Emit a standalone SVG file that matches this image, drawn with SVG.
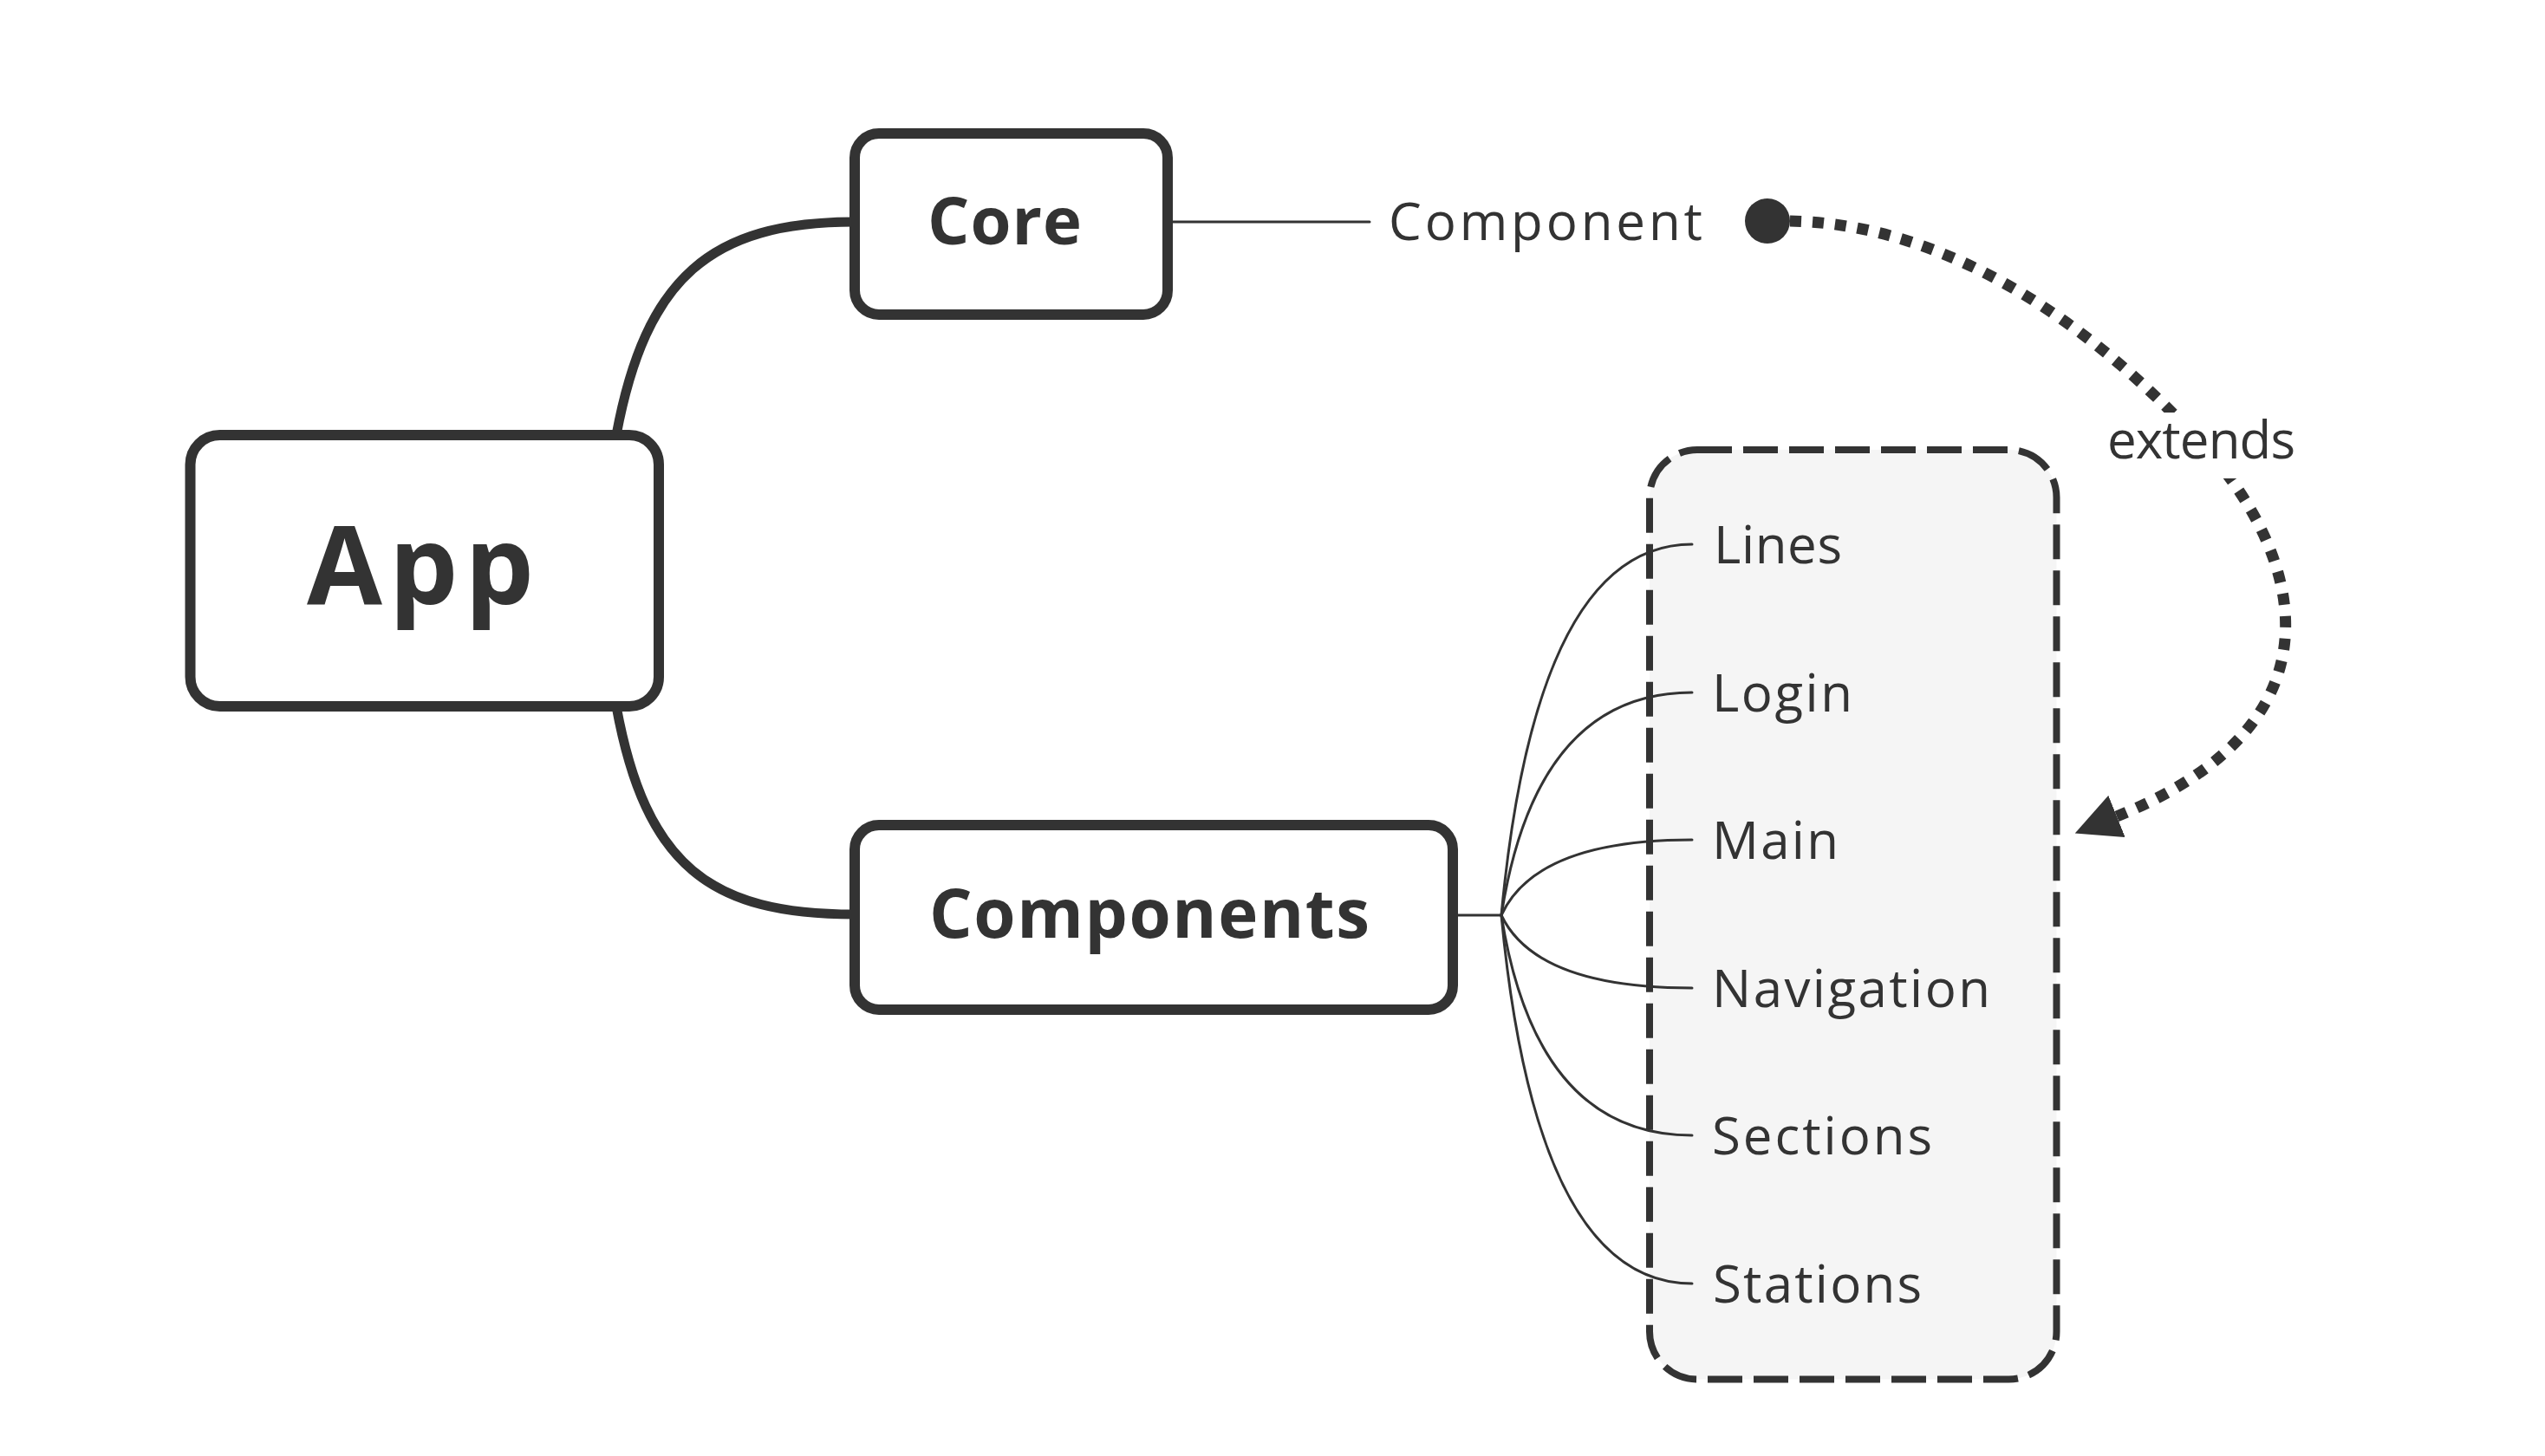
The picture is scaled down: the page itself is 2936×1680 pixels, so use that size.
<svg xmlns="http://www.w3.org/2000/svg" width="2936" height="1680" viewBox="0 0 2936 1680">
  <style>
    .box { fill: #ffffff; stroke: #333333; stroke-width: 12; }
    .title { font-family: "Open Sans", "Liberation Sans", sans-serif; font-weight: 700; fill: #333333; }
    .label { font-family: "Open Sans", "Liberation Sans", sans-serif; font-weight: 400; font-size: 60px; fill: #333333; }
    .thick { fill: none; stroke: #333333; stroke-width: 11; stroke-linecap: butt; }
    .thin { fill: none; stroke: #333333; stroke-width: 3; stroke-linecap: round; }
    .dotted { fill: none; stroke: #333333; stroke-width: 13; stroke-dasharray: 13 13; }
    .group { fill: #f5f5f5; stroke: #333333; stroke-width: 8; stroke-dasharray: 40 13; }
  </style>
  <defs>
    <marker id="arrow" viewBox="0 0 52 52" refX="0" refY="26" markerWidth="52" markerHeight="52" markerUnits="userSpaceOnUse" orient="auto">
      <path d="M0,0 L52,26 L0,52 z" fill="#333333"/>
    </marker>
  </defs>
  <rect width="2936" height="1680" fill="#ffffff"/>

  <g id="components-group">
    <rect class="group" x="1903" y="519" width="469.5" height="1072.5" rx="55" ry="55"/>
  </g>

  <g id="connectors">
    <path class="thick" d="M711 502 C745 320 820 256 986 256"/>
    <path class="thick" d="M711 815 C745 1000 820 1055 986 1055"/>
    <path class="thin" d="M1353 256 L1580 256"/>
    <path class="thin" d="M1682 1056 L1732 1056"/>
    <path class="thin" d="M1732 1056 Q1772 628 1952 628"/>
    <path class="thin" d="M1732 1056 Q1772 799 1952 799"/>
    <path class="thin" d="M1732 1056 Q1772 969 1952 969"/>
    <path class="thin" d="M1732 1056 Q1772 1140 1952 1140"/>
    <path class="thin" d="M1732 1056 Q1772 1310 1952 1310"/>
    <path class="thin" d="M1732 1056 Q1772 1481 1952 1481"/>
    <circle cx="2039" cy="255" r="26" fill="#333333"/>
    <path class="dotted" d="M2065 255 C2250 258 2420 380 2540 512 C2650 632 2720 830 2442 942" marker-end="url(#arrow)"/>
    <g id="extends-label">
      <rect x="2422" y="476" width="236" height="76" fill="#ffffff"/>
      <text class="label" x="2431" y="529" font-size="58" textLength="217" lengthAdjust="spacing">extends</text>
    </g>
  </g>

  <g id="node-app">
    <rect class="box" x="219.5" y="502" width="540.5" height="313" rx="34" ry="34"/>
    <text class="title" x="354" y="697" font-size="126" textLength="262" lengthAdjust="spacing">App</text>
  </g>

  <g id="node-core">
    <rect class="box" x="986" y="154" width="361" height="209" rx="28" ry="28"/>
    <text class="title" x="1070" y="282" font-size="76" textLength="178" lengthAdjust="spacing">Core</text>
  </g>

  <g id="node-component">
    <text class="label" x="1602" y="277" textLength="362" lengthAdjust="spacing">Component</text>
  </g>

  <g id="node-components">
    <rect class="box" x="986" y="952" width="690" height="213" rx="28" ry="28"/>
    <text class="title" x="1072" y="1082" font-size="78" textLength="508" lengthAdjust="spacing">Components</text>
  </g>

  <g id="node-lines">
    <text class="label" x="1977" y="650" textLength="148" lengthAdjust="spacing">Lines</text>
  </g>
  <g id="node-login">
    <text class="label" x="1975" y="821" textLength="162" lengthAdjust="spacing">Login</text>
  </g>
  <g id="node-main">
    <text class="label" x="1975" y="991" textLength="146" lengthAdjust="spacing">Main</text>
  </g>
  <g id="node-navigation">
    <text class="label" x="1975" y="1162" textLength="321" lengthAdjust="spacing">Navigation</text>
  </g>
  <g id="node-sections">
    <text class="label" x="1975" y="1332" textLength="254" lengthAdjust="spacing">Sections</text>
  </g>
  <g id="node-stations">
    <text class="label" x="1976" y="1503" textLength="241" lengthAdjust="spacing">Stations</text>
  </g>
</svg>
